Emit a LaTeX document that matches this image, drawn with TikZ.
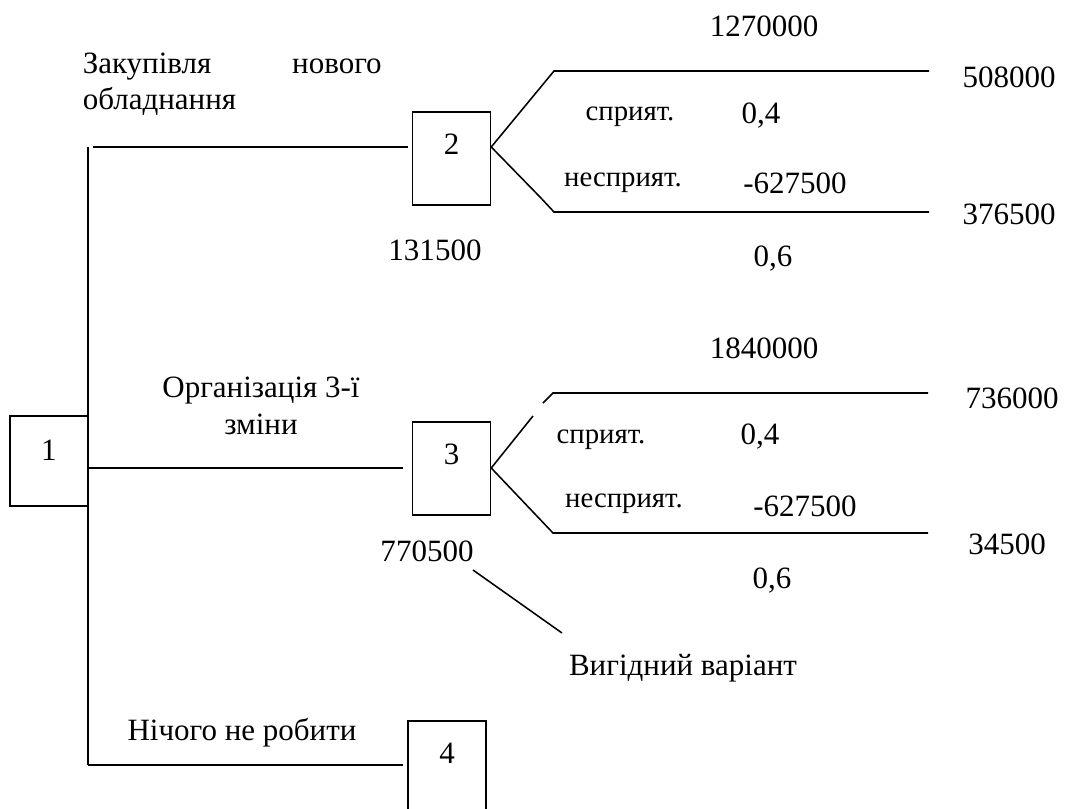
\documentclass[tikz,border=0pt]{standalone}
\usepackage{fontspec}
\setmainfont{Liberation Serif}
\begin{document}
\begin{tikzpicture}[x=0.4516pt, y=-0.4516pt, line width=0.7pt,
    every node/.style={font=\fontsize{14pt}{16.7pt}\selectfont, inner sep=0pt},
    box/.style={draw, anchor=base, minimum width=35.2pt, text height=19pt, text depth=23pt},
    small/.style={font=\fontsize{13pt}{15pt}\selectfont}]
  \useasboundingbox (0,0) rectangle (1071,809);
  % decision boxes
  \node[box, text height=19.9pt, text depth=20.8pt] (n1) at (49,460) {1};
  \node[box] (n2) at (451.5,154) {2};
  \node[box] (n3) at (451.5,464) {3};
  \node[box] (n4) at (447,763) {4};
  % trunk and branches
  \coordinate (top) at (88,147);
  \coordinate (bot) at (88,765);
  \coordinate (b1) at (93,147);
  \coordinate (b2) at (88,468);
  \coordinate (b3) at (88,765);
  \draw (top) -- (bot);
  \draw[shorten >=1.8pt] (b1) -- (b1 -| n2.west);
  \draw[shorten >=4pt] (b2) -- (b2 -| n3.west);
  \draw[shorten >=1.8pt] (b3) -- (b3 -| n4.west);
  \node[anchor=base west, text width=135pt, align=left] (c2) at (82,73)
    {Закупівля\hfill нового\\обладнання};
  \node[anchor=base, align=center] (c3) at (261,434) {Організація 3-ї\\зміни};
  \node[anchor=base] (c4) at (242,740) {Нічого не робити};
  % fork of box 2
  \coordinate (u2) at (554,71);
  \coordinate (v2) at (929,71);
  \coordinate (k2) at (540,197);
  \coordinate (l2) at (554,212);
  \coordinate (w2) at (929,212);
  \draw (n2.east |- b1) -- (u2) -- (v2);
  \draw (n2.east |- b1) -- (k2) -- (l2) -- (w2);
  \node[anchor=base] (p2) at (764,36) {1270000};
  \node[anchor=base] (r2a) at (1009,87) {508000};
  \node[small, anchor=base] (f2) at (630,120) {сприят.};
  \node[anchor=base] (q2a) at (761,123) {0,4};
  \node[small, anchor=base] (g2) at (623,186) {несприят.};
  \node[anchor=base] (m2) at (795,193) {-627500};
  \node[anchor=base] (r2b) at (1009,224) {376500};
  \node[anchor=base] (q2b) at (773,266) {0,6};
  \node[anchor=base] (e2) at (435,260) {131500};
  % fork of box 3
  \coordinate (h3) at (533,416);
  \coordinate (k3) at (543,403);
  \coordinate (u3) at (553,393);
  \coordinate (v3) at (928,393);
  \coordinate (l3) at (553,533);
  \coordinate (w3) at (928,533);
  \draw (n3.east |- b2) -- (h3);
  \draw (k3) -- (u3) -- (v3);
  \draw (n3.east |- b2) -- (l3) -- (w3);
  \node[anchor=base] (p3) at (764,358) {1840000};
  \node[anchor=base] (r3a) at (1012,408) {736000};
  \node[small, anchor=base] (f3) at (601,443) {сприят.};
  \node[anchor=base] (q3a) at (760,444) {0,4};
  \node[small, anchor=base] (g3) at (624,507) {несприят.};
  \node[anchor=base] (m3) at (805,516) {-627500};
  \node[anchor=base] (r3b) at (1007,554) {34500};
  \node[anchor=base] (q3b) at (772,588) {0,6};
  \node[anchor=base] (e3) at (427,561) {770500};
  % best choice
  \node[anchor=base] (best) at (683,675) {Вигідний варіант};
  \coordinate (s1) at (473,570);
  \coordinate (s2) at (562,633);
  \draw (s1) -- (s2);
\end{tikzpicture}
\end{document}
